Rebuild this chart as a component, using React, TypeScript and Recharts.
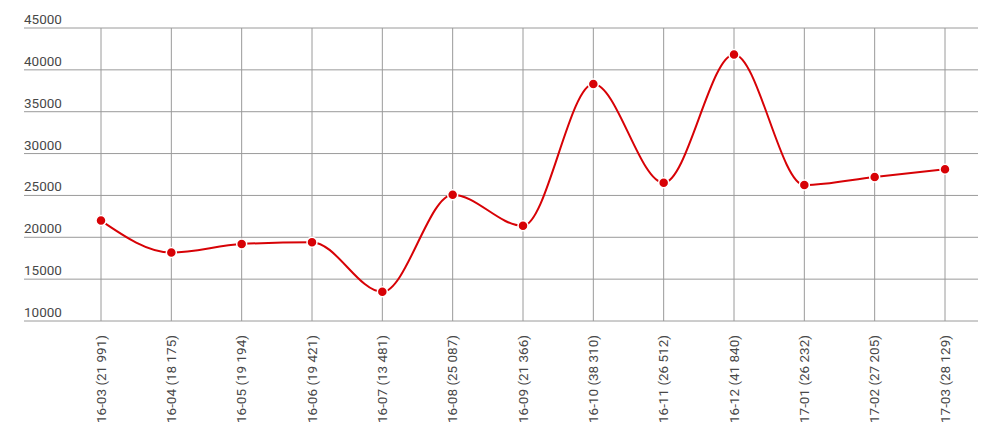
import { ReactElement } from "react";

import { CartesianGrid, Line, LineChart, ReferenceLine, XAxis, YAxis } from "recharts";

const months: string[] = [
  "16-03", "16-04", "16-05", "16-06", "16-07", "16-08", "16-09",
  "16-10", "16-11", "16-12", "17-01", "17-02", "17-03",
];

const totals: number[] = [
  21991, 18175, 19194, 19421, 13481, 25087, 21366,
  38310, 26512, 41840, 26232, 27205, 28129,
];

const yTicks: number[] = [10000, 15000, 20000, 25000, 30000, 35000, 40000, 45000];

const RED = "#d70206";
const GRID = "#9a9a9a";
const LABEL = "#484848";
const FONT = "Roboto, 'Noto Sans', sans-serif";

function fmtThousands(v: number): string {
  return String(v).replace(/\B(?=(\d{3})+(?!\d))/g, " ");
}

const data = months.map((m, i) => ({
  name: `${m} (${fmtThousands(totals[i])})`,
  total: totals[i],
}));

function XTick(props: any): ReactElement {
  const { x, y, payload } = props;
  return (
    <g transform={`translate(${x},${y})`}>
      <text
        transform="rotate(-90)"
        x={-6}
        y={0}
        dy={4.5}
        textAnchor="end"
        fill={LABEL}
        fontSize={13.5}
        fontFamily={FONT}
      >
        {payload.value}
      </text>
    </g>
  );
}

function YTick(props: any): ReactElement {
  const { y, payload } = props;
  return (
    <text
      x={24}
      y={y - 4}
      textAnchor="start"
      fill={LABEL}
      fontSize={13.5}
      fontFamily={FONT}
    >
      {payload.value}
    </text>
  );
}

export default function App(): ReactElement {
  return (
    <div style={{ width: 993, height: 433 }}>
      <style>{"body{margin:0}"}</style>
      <LineChart
        width={993}
        height={433}
        data={data}
        margin={{ top: 28, right: 15, bottom: 12, left: -36 }}
      >
        <CartesianGrid stroke={GRID} strokeWidth={1} vertical={false} />
        {data.map((d) => (
          <ReferenceLine key={d.name} x={d.name} stroke={GRID} strokeWidth={1} />
        ))}
        <XAxis
          dataKey="name"
          interval={0}
          padding={{ left: 77, right: 33 }}
          axisLine={false}
          tickLine={false}
          height={100}
          tick={<XTick />}
        />
        <YAxis
          domain={[10000, 45000]}
          ticks={yTicks}
          width={60}
          axisLine={false}
          tickLine={false}
          tick={<YTick />}
        />
        <Line
          type="monotone"
          dataKey="total"
          stroke={RED}
          strokeWidth={2}
          dot={{ r: 5, fill: RED, stroke: "#fff", strokeWidth: 1.5 }}
          activeDot={false}
          isAnimationActive={false}
        />
      </LineChart>
    </div>
  );
}
